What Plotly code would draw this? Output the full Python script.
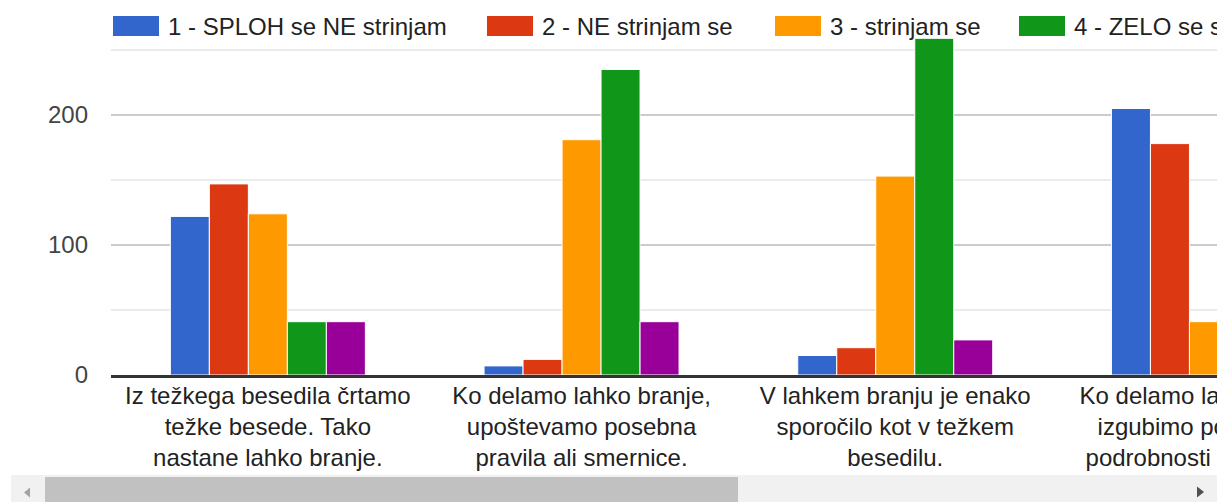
import plotly.graph_objects as go

# ---- data -------------------------------------------------------------
categories = [
    "Iz težkega besedila črtamo<br>težke besede. Tako<br>nastane lahko branje.",
    "Ko delamo lahko branje,<br>upoštevamo posebna<br>pravila ali smernice.",
    "V lahkem branju je enako<br>sporočilo kot v težkem<br>besedilu.",
    "Ko delamo lahko branje,<br>izgubimo pomembne<br>podrobnosti v besedilu.",
]
series_names = [
    "1 - SPLOH se NE strinjam",
    "2 - NE strinjam se",
    "3 - strinjam se",
    "4 - ZELO se strinjam",
    "5 - Ne vem",
]
values_1 = [122, 7, 15, 205]
values_2 = [147, 12, 21, 178]
values_3 = [124, 181, 153, 41]
values_4 = [41, 235, 259, 16]
values_5 = [41, 41, 27, 35]
colors = ["#3366cc", "#dc3912", "#ff9900", "#109618", "#990099"]
y_ticks = [0, 100, 200]

series_values = [values_1, values_2, values_3, values_4, values_5]

# ---- geometry (pixels) ------------------------------------------------
W, H = 1228, 502
ML, MR, MT, MB = 111, 11, 34, 127
PW = W - ML - MR
PH = H - MT - MB
CAT_PX = 313.7           # pixel width of one category band
PX_PER_UNIT = 1.3        # pixels per count on the y axis

FONT = "Liberation Sans, Arial, sans-serif"


def px_x(px):
    return (px - ML) / PW


def px_y(py):
    return (H - MB - py) / PH


fig = go.Figure()
for name, vals, col in zip(series_names, series_values, colors):
    fig.add_trace(go.Bar(
        x=categories, y=vals, name=name,
        marker=dict(color=col, line=dict(color="white", width=1)),
        showlegend=False,
    ))

shapes = []
annotations = []

# manual legend (the reference legend runs off the right edge)
legend_box_left = [113, 487, 775, 1019, 1330]
for name, col, bx in zip(series_names, colors, legend_box_left):
    shapes.append(dict(
        type="rect", xref="paper", yref="paper",
        x0=px_x(bx), x1=px_x(bx + 46), y0=px_y(36), y1=px_y(16),
        fillcolor=col, line=dict(width=0), layer="above",
    ))
    annotations.append(dict(
        xref="paper", yref="paper", x=px_x(bx + 53), y=px_y(26),
        xanchor="left", yanchor="middle", text=name, showarrow=False,
        font=dict(family=FONT, size=24, color="#222222"),
    ))

# horizontal scrollbar of the original widget
shapes.append(dict(type="rect", xref="paper", yref="paper",
                   x0=px_x(11), x1=px_x(1217), y0=px_y(502), y1=px_y(475),
                   fillcolor="#f1f1f1", line=dict(width=0), layer="above"))
shapes.append(dict(type="rect", xref="paper", yref="paper",
                   x0=px_x(45), x1=px_x(738), y0=px_y(502), y1=px_y(477),
                   fillcolor="#c1c1c1", line=dict(width=0), layer="above"))
shapes.append(dict(type="path", xref="paper", yref="paper",
                   path=f"M {px_x(24)} {px_y(492.5)} L {px_x(30)} {px_y(487.5)} "
                        f"L {px_x(30)} {px_y(497.5)} Z",
                   fillcolor="#a3a3a3", line=dict(width=0), layer="above"))
shapes.append(dict(type="path", xref="paper", yref="paper",
                   path=f"M {px_x(1204)} {px_y(492)} L {px_x(1197)} {px_y(486.5)} "
                        f"L {px_x(1197)} {px_y(497.5)} Z",
                   fillcolor="#505050", line=dict(width=0), layer="above"))

# white strip at the right edge (the widget viewport ends there)
annotations.append(dict(
    xref="paper", yref="paper", x=1.0, y=px_y(H / 2),
    xanchor="left", yanchor="middle", text=" ", showarrow=False,
    width=MR + 2, height=H + 4, bgcolor="white", borderpad=0, borderwidth=0,
))

group_px = 195.0
fig.update_layout(
    width=W, height=H, autosize=False,
    margin=dict(l=ML, r=MR, t=MT, b=MB, pad=0, autoexpand=False),
    paper_bgcolor="white", plot_bgcolor="white",
    barmode="group", bargap=1 - group_px / CAT_PX, bargroupgap=0,
    font=dict(family=FONT, size=24, color="#222222"),
    xaxis=dict(
        type="category",
        range=[-0.5, -0.5 + PW / CAT_PX],
        automargin=False,
        showgrid=False, zeroline=False,
        showline=True, linecolor="#333333", linewidth=3,
        ticks="", tickfont=dict(family=FONT, size=24, color="#222222"),
        ticklabelstandoff=-3,
        fixedrange=True,
    ),
    yaxis=dict(
        range=[0, PH / PX_PER_UNIT],
        automargin=False,
        tickmode="array", tickvals=y_ticks,
        showgrid=True, gridcolor="#cccccc", gridwidth=2,
        zeroline=False, showline=False, ticks="",
        tickfont=dict(family=FONT, size=24, color="#444444"),
        ticklabelstandoff=22,
        minor=dict(tickmode="linear", tick0=0, dtick=50, showgrid=True,
                   gridcolor="#ebebeb", gridwidth=2, ticks=""),
        fixedrange=True,
    ),
    shapes=shapes,
    annotations=annotations,
    showlegend=False,
)

fig.write_html(
    "out.html",
    config={"displayModeBar": False},
    post_script="document.body.style.margin='0';document.body.style.overflow='hidden';",
)
